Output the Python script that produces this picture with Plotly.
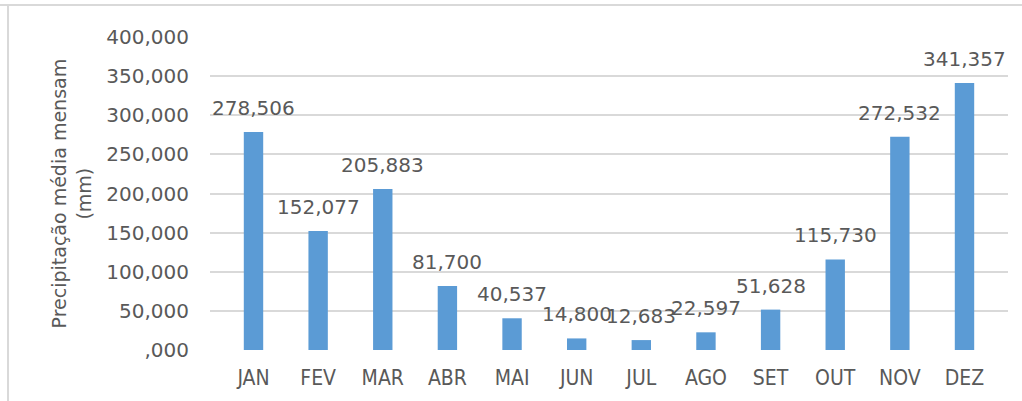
import plotly.graph_objects as go

# Monthly mean precipitation (mm)
months = ["JAN", "FEV", "MAR", "ABR", "MAI", "JUN", "JUL", "AGO", "SET", "OUT", "NOV", "DEZ"]
precip_mm = [278.506, 152.077, 205.883, 81.700, 40.537, 14.800, 12.683, 22.597, 51.628, 115.730, 272.532, 341.357]

y_tick_values = [0, 50, 100, 150, 200, 250, 300, 350, 400]
y_tick_labels = [",000", "50,000", "100,000", "150,000", "200,000", "250,000", "300,000", "350,000", "400,000"]

BAR_BLUE = "#5B9BD5"
TEXT_GREY = "#595959"
GRID_GREY = "#D9D9D9"
NUM_FONT = "DejaVu Sans, Verdana, sans-serif"
CAT_FONT = "Liberation Sans Narrow, DejaVu Sans Condensed, Arial Narrow, sans-serif"


def pt_br(v):
    # decimal comma, three decimals
    return f"{v:.3f}".replace(".", ",")


fig = go.Figure()
fig.add_trace(go.Bar(
    x=months,
    y=precip_mm,
    marker=dict(color=BAR_BLUE, line=dict(width=0)),
    width=0.3,
    hoverinfo="skip",
))

# value labels above each bar
annotations = [
    dict(x=m, y=v, xref="x", yref="y", text=pt_br(v), showarrow=False,
         yanchor="bottom", yshift=10,
         font=dict(family=NUM_FONT, size=20, color=TEXT_GREY))
    for m, v in zip(months, precip_mm)
]

# rotated axis title
annotations.append(dict(
    x=-0.173, y=0.5, xref="paper", yref="paper",
    text="Precipitação média mensam<br>(mm)", textangle=-90,
    showarrow=False, xanchor="center", yanchor="middle",
    font=dict(family=NUM_FONT, size=19, color=TEXT_GREY),
))

# chart-area frame (top and left edges)
frame_x = -0.2531
frame_y = 1.1022
shapes = [
    dict(type="line", xref="paper", yref="paper", x0=-0.27, x1=1.03, y0=frame_y, y1=frame_y,
         line=dict(color=GRID_GREY, width=2)),
    dict(type="line", xref="paper", yref="paper", x0=frame_x, x1=frame_x, y0=frame_y, y1=-0.2,
         line=dict(color=GRID_GREY, width=2)),
]

fig.update_layout(
    width=1022, height=401,
    margin=dict(l=210, r=14, t=37, b=51),
    paper_bgcolor="white", plot_bgcolor="white",
    showlegend=False,
    bargap=0.7,
    annotations=annotations,
    shapes=shapes,
    xaxis=dict(
        showgrid=False, zeroline=False, showline=False,
        ticks="", ticklabelstandoff=13,
        tickfont=dict(family=CAT_FONT, size=21, color=TEXT_GREY),
        fixedrange=True,
    ),
    yaxis=dict(
        range=[0, 400],
        tickvals=y_tick_values, ticktext=y_tick_labels,
        showgrid=True, gridcolor=GRID_GREY, gridwidth=2,
        zeroline=False, showline=False,
        ticks="", ticklabelstandoff=20,
        tickfont=dict(family=NUM_FONT, size=20, color=TEXT_GREY),
        fixedrange=True,
    ),
)

fig.write_html("out.html", config={"displayModeBar": False})
